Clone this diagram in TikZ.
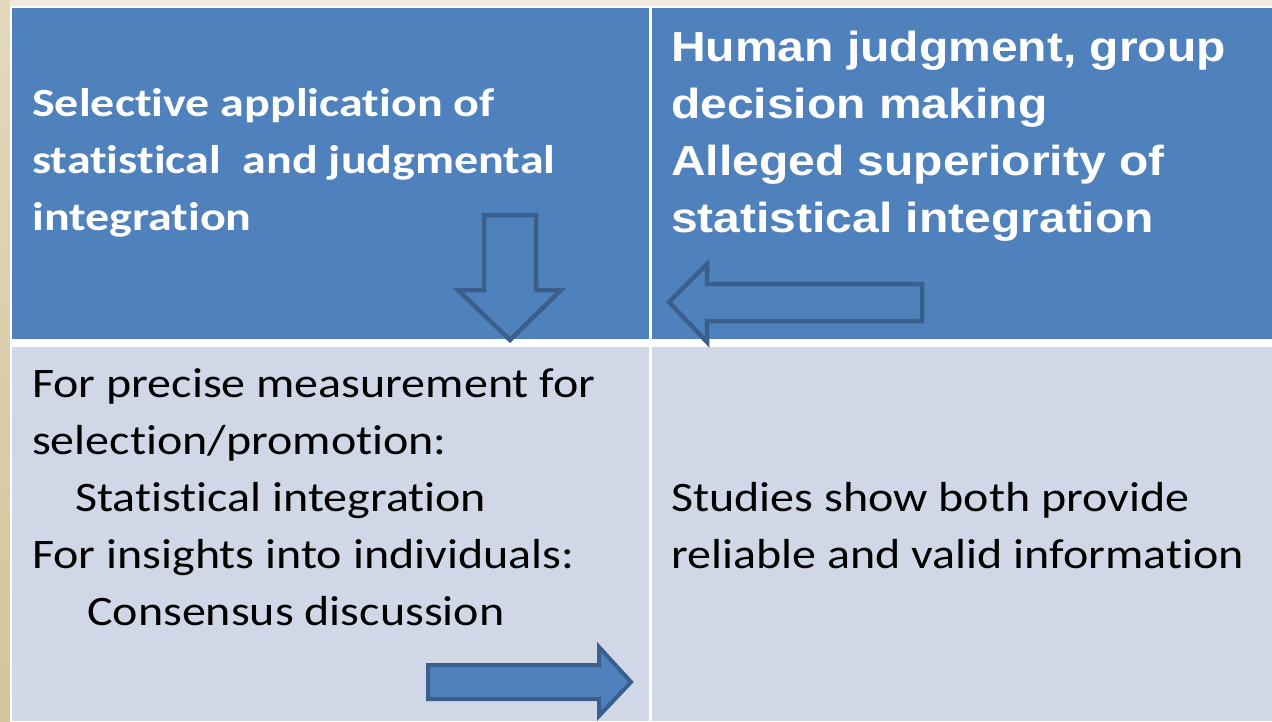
\documentclass[tikz,border=0pt]{standalone}
\usepackage{graphicx}
\usepackage{fontspec}
\setmainfont{Carlito}[Ligatures=NoCommon]
\newfontfamily\arialb{Liberation Sans}[BoldFont={Liberation Sans Bold}]
\definecolor{bgtop}{HTML}{F0E9DA}
\definecolor{bgleft}{HTML}{E4D8BC}
\definecolor{bgleftb}{HTML}{D4C49A}
\definecolor{cellblue}{HTML}{4F81BD}
\definecolor{celllight}{HTML}{D0D8E8}
\definecolor{arrowline}{HTML}{3A5F8C}
\newcommand\wideA[1]{\scalebox{1.2}[1]{#1}}
\newcommand\wideB[1]{\scalebox{1.143}[1]{#1}}
\tikzset{
  tl/.style={anchor=base west, inner sep=0pt, text=white, font=\fontsize{40}{48}\selectfont\bfseries},
  tr/.style={anchor=base west, inner sep=0pt, text=white, font=\arialb\fontsize{42}{50}\selectfont\bfseries},
  bl/.style={anchor=base west, inner sep=0pt, text=black, font=\fontsize{42}{50}\selectfont},
  outlinearrow/.style={draw=arrowline, line width=4.5pt, line join=miter},
  fillarrow/.style={draw=arrowline, fill=cellblue, line width=4pt, line join=miter}
}
\begin{document}
\begin{tikzpicture}[x=1pt,y=-1pt]
\useasboundingbox (0,0) rectangle (1272,721);
% background
\fill[bgtop] (0,0) rectangle (1272,721);
\shade[top color=bgleft, bottom color=bgleftb] (0,0) rectangle (10,721);
% white frame
\fill[white] (10,6) rectangle (1272,721);
% cells
\fill[cellblue] (12,8) rectangle (649,339);
\fill[cellblue] (652,8) rectangle (1272,339);
\fill[celllight] (12,347) rectangle (649,721);
\fill[celllight] (652,347) rectangle (1272,721);
% arrows
\draw[outlinearrow] (484,215) -- (536,215) -- (536,290) -- (561,290) -- (510,340) -- (458,290) -- (484,290) -- cycle;
\draw[outlinearrow] (669,302) -- (707,264) -- (707,284) -- (922,284) -- (922,321) -- (707,321) -- (707,342) -- cycle;
\draw[fillarrow] (428,665) -- (599,665) -- (599,647) -- (631,682) -- (599,716) -- (599,699) -- (428,699) -- cycle;
% top-left text
\node[tl] (tl1) at (32,116) {\wideA{Selective application of}};
\node[tl] (tl2) at (32,173) {\wideA{statistical\ \ and judgmental}};
\node[tl] (tl3) at (32,230) {\wideA{integration}};
% top-right text
\node[tr] (tr1) at (671,61) {\wideB{Human judgment, group}};
\node[tr] (tr2) at (671,118) {\wideB{decision making}};
\node[tr] (tr3) at (671,175) {\wideB{Alleged superiority of}};
\node[tr] (tr4) at (671,232) {\wideB{statistical integration}};
% bottom-left text
\node[bl] (bl1) at (32,397) {\wideB{For precise measurement for}};
\node[bl] (bl2) at (32,454) {\wideB{selection/promotion:}};
\node[bl] (bl3) at (75,511) {\wideB{Statistical integration}};
\node[bl] (bl4) at (32,568) {\wideB{For insights into individuals:}};
\node[bl] (bl5) at (87,625) {\wideB{Consensus discussion}};
% bottom-right text
\node[bl] (br1) at (671,511) {\wideB{Studies show both provide}};
\node[bl] (br2) at (671,568) {\wideB{reliable and valid information}};
\end{tikzpicture}
\end{document}
